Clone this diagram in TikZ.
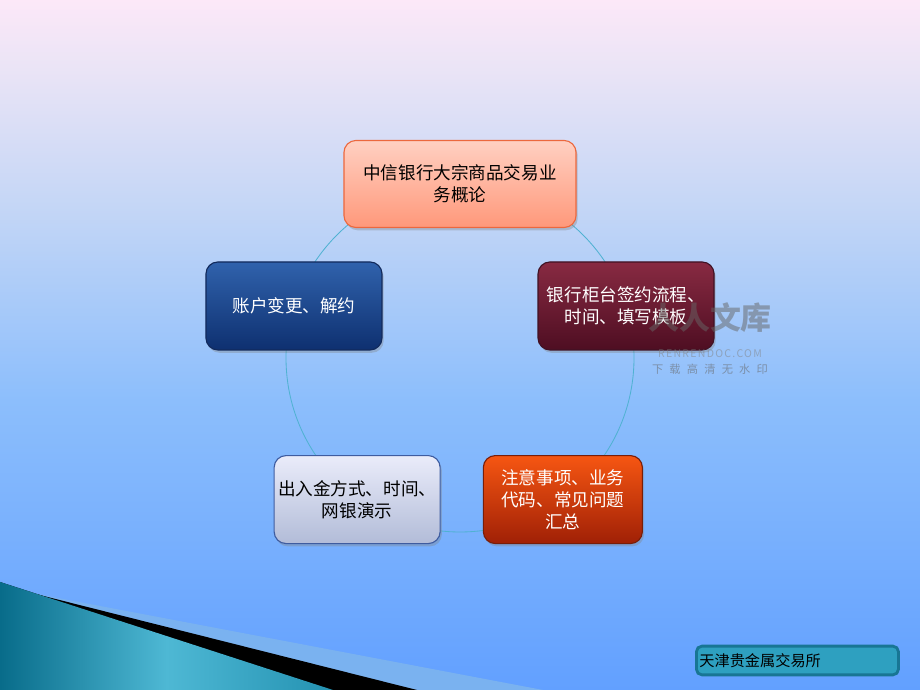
\documentclass[tikz,border=0pt]{standalone}
\usepackage{fontspec}
\setmainfont{Noto Sans CJK SC}
\usepackage{tikz}
\usetikzlibrary{shadows}
\usetikzlibrary{positioning}

\definecolor{bgA}{RGB}{252,232,248}
\definecolor{bgB}{RGB}{234,228,246}
\definecolor{bgC}{RGB}{196,214,246}
\definecolor{bgD}{RGB}{140,190,252}
\definecolor{bgE}{RGB}{98,160,255}
\definecolor{ringline}{RGB}{80,178,210}
\definecolor{salmonTop}{RGB}{255,208,194}
\definecolor{salmonBot}{RGB}{255,152,122}
\definecolor{salmonLine}{RGB}{236,104,62}
\definecolor{wineTop}{RGB}{136,42,66}
\definecolor{wineBot}{RGB}{78,14,34}
\definecolor{wineLine}{RGB}{64,18,36}
\definecolor{fireTop}{RGB}{246,86,18}
\definecolor{fireBot}{RGB}{160,32,6}
\definecolor{fireLine}{RGB}{120,30,10}
\definecolor{mistTop}{RGB}{234,236,250}
\definecolor{mistBot}{RGB}{178,188,216}
\definecolor{mistLine}{RGB}{62,92,160}
\definecolor{navyTop}{RGB}{48,98,172}
\definecolor{navyBot}{RGB}{14,48,112}
\definecolor{navyLine}{RGB}{18,42,92}
\definecolor{tealA}{RGB}{8,108,138}
\definecolor{tealB}{RGB}{78,184,212}
\definecolor{tealC}{RGB}{36,146,178}
\definecolor{stripe}{RGB}{122,178,240}
\definecolor{tagFill}{RGB}{46,160,192}
\definecolor{tagLine}{RGB}{24,118,148}

\pgfdeclareverticalshading{pagebg}{100bp}{color(0bp)=(bgE); color(25bp)=(bgE);
  color(46bp)=(bgD); color(60bp)=(bgC); color(70bp)=(bgB); color(75bp)=(bgA); color(100bp)=(bgA)}

\begin{document}
\begin{tikzpicture}[x=0.025cm,y=0.025cm,
    topic/.style={rounded corners=8.5pt, align=center, line width=0.8pt,
        font=\fontsize{12.5}{15.5}\selectfont, inner sep=2pt,
        drop shadow={opacity=.35, shadow xshift=1.2pt, shadow yshift=-2pt}},
    salmon/.style={topic, draw=salmonLine, top color=salmonTop, bottom color=salmonBot, text=black},
    wine/.style={topic, draw=wineLine, top color=wineTop, bottom color=wineBot, text=white},
    fire/.style={topic, draw=fireLine, top color=fireTop, bottom color=fireBot, text=white},
    mist/.style={topic, draw=mistLine, top color=mistTop, bottom color=mistBot, text=black},
    navy/.style={topic, draw=navyLine, top color=navyTop, bottom color=navyBot, text=white},
    ring/.style={draw=ringline, line width=0.6pt}]

    \fill[shading=pagebg] (0,0) rectangle (920,690);
    \useasboundingbox (0,0) rectangle (920,690);

    % corner ribbons
    \fill[stripe] (0,103) -- (543,0) -- (0,0) -- cycle;
    \fill[black] (0,105) -- (417,0) -- (0,0) -- cycle;
    \fill[left color=tealA, right color=tealC, middle color=tealB] (0,108) -- (333,0) -- (0,0) -- cycle;

    \coordinate (ctr) at (460,332);
    \draw[ring] (ctr) circle[radius=174];

    \node[salmon, minimum width=5.8cm, minimum height=2.175cm] (intro)
        at ([shift={(90:174)}]ctr) {中信银行大宗商品交易业\\务概论};
    \node[wine, minimum width=4.4cm, minimum height=2.2cm] (sign)
        at ([shift={(17.4:174)}]ctr) {银行柜台签约流程、\\时间、填写模板};
    \node[fire, minimum width=3.975cm, minimum height=2.2cm] (faq)
        at ([shift={(-54:175)}]ctr) {注意事项、业务\\代码、常见问题\\汇总};
    \node[mist, minimum width=4.15cm, minimum height=2.2cm] (funds)
        at ([shift={(-126:175)}]ctr) {出入金方式、时间、\\网银演示};
    \node[navy, minimum width=4.4cm, minimum height=2.2cm] (account)
        at ([shift={(162.6:174)}]ctr) {账户变更、解约};

    % watermark
    \node[text=black!60, opacity=.5, font=\fontsize{22}{22}\selectfont\bfseries] (wmark)
        at (710,372) {人人文库};
    \node[text=black!50, opacity=.5, font=\fontsize{7.5}{8}\selectfont\addfontfeature{LetterSpace=12},
        below=4.5pt of wmark] (wsite) {RENRENDOC.COM};
    \node[text=black!60, opacity=.55, font=\fontsize{8}{9}\selectfont\addfontfeature{LetterSpace=55},
        below=-2.5pt of wsite] (wnote) {下载高清无水印};

    % footer tag
    \node[draw=tagLine, line width=2pt, fill=tagFill, rounded corners=4pt, anchor=west,
        minimum width=5.05cm, minimum height=0.72cm, text width=4.9cm, inner sep=1.5pt,
        font=\fontsize{10.8}{12}\selectfont] (tag) at (695,29.5) {天津贵金属交易所};
\end{tikzpicture}
\end{document}
